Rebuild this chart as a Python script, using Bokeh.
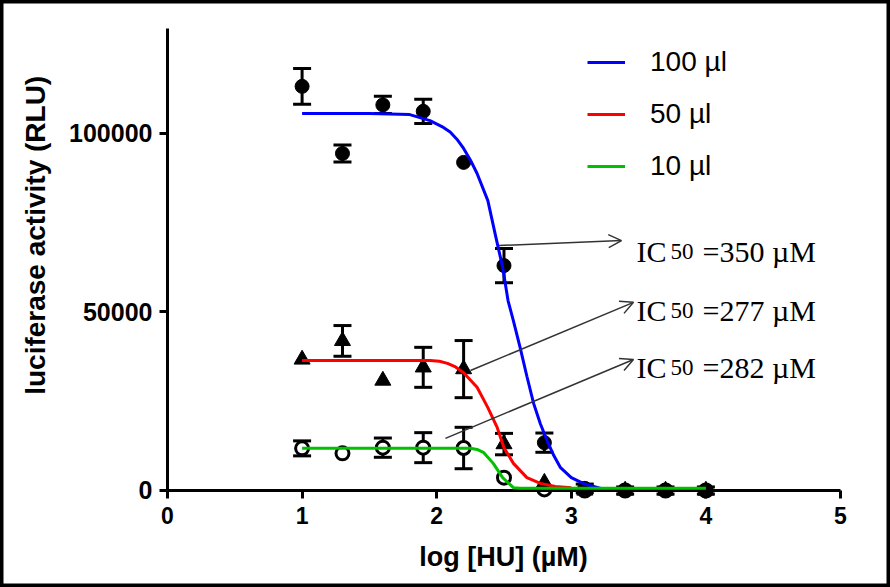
from math import pi
from bokeh.plotting import figure
from bokeh.models import (Range1d, FixedTicker, NumeralTickFormatter, ColumnDataSource,
                          Whisker, TeeHead, Arrow, OpenHead, Label, Legend, LegendItem)
from bokeh.embed import file_html
from bokeh.resources import INLINE

# ---------------- data ----------------
log_hu = [1.0, 1.3, 1.6, 1.9, 2.2, 2.5, 2.8, 3.1, 3.4, 3.7, 4.0]

rlu_100 = [113200, 94400, 108000, 106200, 91900, 63000, 13400, 600, 0, 0, 0]
sem_100 = [5000, 2400, 2400, 3400, 0, 4800, 2700, 1200, 1000, 1000, 1000]

rlu_50 = [36700, 41900, 30800, 34500, 34000, 13000, 2200, 0, 0, 0, 0]
sem_50 = [0, 4300, 0, 5600, 8000, 3000, 0, 0, 0, 0, 0]

rlu_10 = [11800, 10400, 12000, 12000, 11900, 3600, 300, 0, 0, 0, 0]
sem_10 = [2100, 0, 2700, 4200, 5800, 0, 0, 0, 0, 0, 0]

# fitted curves
fit100_x = [1.0, 1.5, 1.8, 1.95, 2.05, 2.1, 2.15, 2.2, 2.25, 2.3, 2.38, 2.44, 2.49, 2.53,
            2.57, 2.62, 2.67, 2.72, 2.77, 2.82, 2.87, 2.92, 3.0, 3.1, 3.22]
fit100_y = [105600, 105600, 105300, 103600, 101700, 100400, 98400, 95800, 92600, 88800,
            81200, 70900, 62500, 53200, 47500, 40000, 32000, 24400, 18700, 14000, 9800,
            6400, 3600, 1800, 600]

fit50_x = [1.0, 1.5, 1.95, 2.02, 2.08, 2.14, 2.2, 2.3, 2.38, 2.45, 2.5, 2.57, 2.67, 2.77,
           2.88, 3.0]
fit50_y = [36400, 36400, 36400, 36200, 35600, 34600, 33000, 28900, 23200, 17600, 12000,
           7600, 3600, 2000, 1100, 800]

fit10_x = [1.0, 1.5, 2.25, 2.3, 2.35, 2.42, 2.49, 2.57, 2.62, 3.0, 4.0]
fit10_y = [11850, 11850, 11850, 11500, 10600, 7600, 3600, 800, 600, 600, 600]

x_ticks = [0, 1, 2, 3, 4, 5]
y_ticks = [0, 50000, 100000]

legend_labels = ["100 µl", "50 µl", "10 µl"]
ic50_values = ["=350 µM", "=277 µM", "=282 µM"]

# ---------------- figure (frame covers the whole canvas) ----------------
p = figure(width=890, height=587, output_backend="svg", toolbar_location=None, title=None,
           x_range=Range1d(-1.2407, 5.3715), y_range=Range1d(-27170, 137249),
           min_border=0, min_border_left=0, min_border_right=0, min_border_top=0,
           min_border_bottom=0)
p.grid.visible = False
# frame == canvas, so the frame outline gives the picture's black border
p.outline_line_color = "black"
p.outline_line_width = 6
p.background_fill_color = "white"
p.border_fill_color = "white"

for ax in (p.xaxis[0], p.yaxis[0]):
    ax.axis_line_width = 3
    ax.axis_line_color = "black"
    ax.major_tick_line_width = 3
    ax.major_tick_line_color = "black"
    ax.major_tick_out = 8
    ax.major_tick_in = 0
    ax.minor_tick_line_color = None
    ax.major_label_text_font = "Liberation Sans"
    ax.major_label_text_font_style = "bold"
    ax.major_label_text_color = "black"

p.xaxis.fixed_location = 0
p.xaxis.bounds = (0, 5)
p.xaxis.ticker = FixedTicker(ticks=x_ticks)
p.xaxis.major_label_standoff = 9
p.xaxis.major_label_text_font_size = "23px"

p.yaxis.fixed_location = 0
p.yaxis.bounds = (0, 129500)
p.yaxis.ticker = FixedTicker(ticks=y_ticks)
p.yaxis.formatter = NumeralTickFormatter(format="0")
p.yaxis.major_label_standoff = 7
p.yaxis.major_label_text_font_size = "25px"

# ---------------- error bars ----------------
def err_source(vals, sems):
    xs, up, lo = [], [], []
    for x, v, s in zip(log_hu, vals, sems):
        if s > 0:
            xs.append(x)
            up.append(v + s)
            lo.append(v - s)
    return ColumnDataSource(dict(x=xs, upper=up, lower=lo))

for vals, sems in ((rlu_10, sem_10), (rlu_50, sem_50), (rlu_100, sem_100)):
    w = Whisker(source=err_source(vals, sems), base="x", upper="upper", lower="lower",
                dimension="height", line_width=3, line_color="black",
                upper_head=TeeHead(size=18, line_width=3, line_color="black"),
                lower_head=TeeHead(size=18, line_width=3, line_color="black"))
    p.add_layout(w)

# ---------------- markers (open first, filled on top) ----------------
p.scatter(log_hu, rlu_10, marker="circle", size=13, fill_color="white",
          line_color="black", line_width=3)
p.scatter(log_hu, rlu_50, marker="triangle", size=16, fill_color="black", line_color="black")
p.scatter(log_hu, rlu_100, marker="circle", size=14, fill_color="black", line_color="black")

# ---------------- fitted curves ----------------
r100 = p.line(fit100_x, fit100_y, line_width=3, line_color="#0000FF", level="annotation")
r50 = p.line(fit50_x, fit50_y, line_width=3, line_color="#FF0000", level="annotation")
r10 = p.line(fit10_x, fit10_y, line_width=3, line_color="#00C000", level="annotation")

legend = Legend(items=[LegendItem(label=legend_labels[0], renderers=[r100]),
                       LegendItem(label=legend_labels[1], renderers=[r50]),
                       LegendItem(label=legend_labels[2], renderers=[r10])],
                location=(587, 401), glyph_width=38, glyph_height=40, label_height=40,
                label_standoff=25, spacing=12, padding=0, margin=0,
                border_line_color=None, background_fill_alpha=0,
                label_text_font="Liberation Sans", label_text_font_size="28px",
                label_text_color="black")
p.add_layout(legend)

# ---------------- axis titles ----------------
p.add_layout(Label(x=-0.981, y=71475, text="luciferase activity (RLU)", angle=pi / 2,
                   text_align="center", text_baseline="middle",
                   text_font="Liberation Sans", text_font_style="bold",
                   text_font_size="28px", text_color="black"))
p.add_layout(Label(x=2.496, y=-18500, text="log [HU] (µM)",
                   text_align="center", text_baseline="middle",
                   text_font="Liberation Sans", text_font_style="bold",
                   text_font_size="27px", text_color="black"))

# ---------------- IC50 arrows and notes ----------------
arrows = [((2.459, 68600), (3.373, 70000)),
          ((2.251, 33600), (3.462, 52700)),
          ((2.065, 14600), (3.462, 36700))]
for (xs, ys), (xe, ye) in arrows:
    p.add_layout(Arrow(x_start=xs, y_start=ys, x_end=xe, y_end=ye,
                       line_color="#333333", line_width=1.5,
                       end=OpenHead(size=13, line_width=1.5, line_color="#333333")))

note_y = [66940, 50420, 34450]
for yb, val in zip(note_y, ic50_values):
    p.add_layout(Label(x=3.484, y=yb, text="IC", text_font="Liberation Serif",
                       text_font_size="30px", text_baseline="alphabetic",
                       text_color="black"))
    p.add_layout(Label(x=3.737, y=yb, text="50", text_font="Liberation Serif",
                       text_font_size="23px", text_baseline="alphabetic",
                       text_color="black"))
    p.add_layout(Label(x=3.975, y=yb, text=val, text_font="Liberation Serif",
                       text_font_size="30px", text_baseline="alphabetic",
                       text_color="black"))

open("out.html", "w").write(file_html(p, INLINE))
